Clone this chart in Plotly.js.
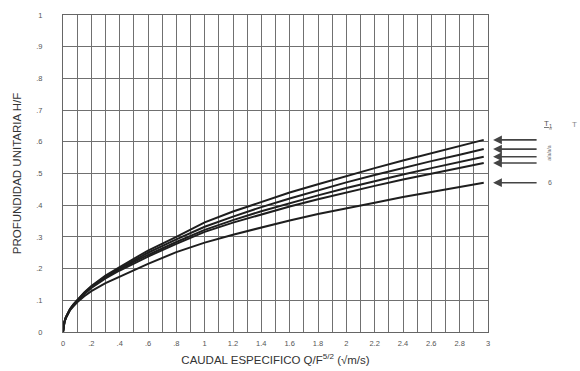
<!DOCTYPE html>
<html><head><meta charset="utf-8">
<script src="https://cdn.plot.ly/plotly-3.0.1.min.js"></script>
<style>body{margin:0;background:#fff}#chart{width:580px;height:371px}</style>
</head><body><div id="chart"></div>
<script>
// Specific discharge Q/F^(5/2) (x) and unit depth H/F (y) for five curves
const xq = [0, 0.005, 0.01, 0.02, 0.035, 0.05, 0.075, 0.1, 0.15, 0.2, 0.3, 0.4, 0.5, 0.6, 0.8, 1.0, 1.2, 1.4, 1.6, 1.8, 2.0, 2.2, 2.4, 2.6, 2.8, 2.97];
const curve1 = [0, 0.022, 0.032, 0.046, 0.061, 0.073, 0.088, 0.101, 0.125, 0.145, 0.178, 0.205, 0.232, 0.257, 0.300, 0.346, 0.380, 0.411, 0.440, 0.466, 0.492, 0.517, 0.541, 0.564, 0.586, 0.606];
const curve2 = [0, 0.022, 0.032, 0.046, 0.060, 0.072, 0.087, 0.100, 0.123, 0.143, 0.175, 0.201, 0.226, 0.250, 0.292, 0.332, 0.364, 0.394, 0.421, 0.447, 0.472, 0.495, 0.518, 0.539, 0.559, 0.577];
const curve3 = [0, 0.022, 0.032, 0.045, 0.060, 0.072, 0.086, 0.099, 0.121, 0.141, 0.172, 0.197, 0.221, 0.243, 0.284, 0.322, 0.353, 0.381, 0.407, 0.431, 0.454, 0.476, 0.497, 0.517, 0.536, 0.553];
const curve4 = [0, 0.022, 0.031, 0.045, 0.059, 0.071, 0.085, 0.098, 0.120, 0.139, 0.169, 0.194, 0.216, 0.238, 0.278, 0.316, 0.345, 0.371, 0.396, 0.419, 0.441, 0.461, 0.481, 0.500, 0.518, 0.533];
const curve5 = [0, 0.022, 0.031, 0.044, 0.058, 0.069, 0.082, 0.094, 0.113, 0.129, 0.154, 0.175, 0.196, 0.215, 0.252, 0.282, 0.307, 0.330, 0.352, 0.372, 0.391, 0.408, 0.426, 0.442, 0.458, 0.471];
const curves = [curve1, curve2, curve3, curve4, curve5];
const arrowLabels = ["", "", "", "", "6"];

const xTickVals = [0,0.1,0.2,0.3,0.4,0.5,0.6,0.7,0.8,0.9,1,1.1,1.2,1.3,1.4,1.5,1.6,1.7,1.8,1.9,2,2.1,2.2,2.3,2.4,2.5,2.6,2.7,2.8,2.9,3];
const xTickText = ["0","",".2","",".4","",".6","",".8","","1","","1.2","","1.4","","1.6","","1.8","","2","","2.2","","2.4","","2.6","","2.8","","3"];
const yTickVals = [0,0.1,0.2,0.3,0.4,0.5,0.6,0.7,0.8,0.9,1];
const yTickText = ["0",".1",".2",".3",".4",".5",".6",".7",".8",".9","1"];

const traces = curves.map(c => ({
  x: xq, y: c, type: 'scatter', mode: 'lines',
  line: {color: '#1e1e1e', width: 2},
  hoverinfo: 'skip', showlegend: false
}));

const annotations = curves.map((c, i) => ({
  xref: 'paper', yref: 'y', x: 1.012, y: c[c.length - 1],
  ax: 46, ay: 0, text: ' ', showarrow: true,
  arrowhead: 2, arrowsize: 1.1, arrowwidth: 1.6, arrowcolor: '#444',
  font: {size: 6}
}));
arrowLabels.forEach((t, i) => {
  if (t) annotations.push({xref: 'paper', yref: 'y', x: 1.155, y: curves[i][curves[i].length - 1],
    text: t, showarrow: false, font: {family: 'Liberation Sans, Arial', size: 7, color: '#666'}});
});
annotations.push({xref: 'paper', yref: 'paper', x: 1.155, y: 0.655, text: '<u>T<sub>1</sub></u>',
  showarrow: false, font: {family: 'Liberation Sans, Arial', size: 8, color: '#555'}});
annotations.push({xref: 'paper', yref: 'paper', x: 1.215, y: 0.655, text: 'T',
  showarrow: false, font: {family: 'Liberation Sans, Arial', size: 8, color: '#888'}});
annotations.push({xref: 'paper', yref: 'y', x: 1.155, y: 0.565, text: 'a/a/a/a',
  textangle: -90, showarrow: false, font: {family: 'Liberation Sans, Arial', size: 5, color: '#777'}});

const layout = {
  width: 580, height: 371,
  margin: {l: 63, r: 92, t: 15, b: 39},
  paper_bgcolor: '#fff', plot_bgcolor: '#fff',
  font: {family: 'Liberation Sans, Arial, sans-serif', color: '#333'},
  xaxis: {
    range: [0, 3], tickmode: 'array', tickvals: xTickVals, ticktext: xTickText,
    showgrid: true, gridcolor: '#707070', gridwidth: 1, zeroline: false,
    showline: true, linecolor: '#666', linewidth: 1, mirror: true,
    ticks: '', tickfont: {size: 7.5, color: '#555'}, ticklabelstandoff: 4,
    title: {text: 'CAUDAL ESPECIFICO Q/F<sup>5/2</sup> (√m/s)', font: {size: 11.5, color: '#333'}, standoff: 8}
  },
  yaxis: {
    range: [0, 1], tickmode: 'array', tickvals: yTickVals, ticktext: yTickText,
    showgrid: true, gridcolor: '#707070', gridwidth: 1, zeroline: false,
    showline: true, linecolor: '#666', linewidth: 1, mirror: true,
    ticks: '', tickfont: {size: 7.5, color: '#555'}, ticklabelstandoff: 18,
    title: {text: 'PROFUNDIDAD UNITARIA H/F', font: {size: 11.5, color: '#333'}, standoff: 12}
  },
  annotations: annotations
};

Plotly.newPlot('chart', traces, layout, {displayModeBar: false, staticPlot: true});
</script></body></html>
